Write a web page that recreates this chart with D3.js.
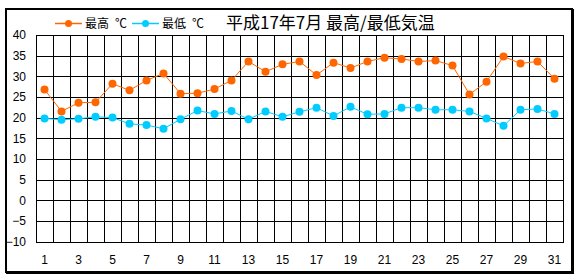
<!DOCTYPE html>
<html>
<head>
<meta charset="utf-8">
<script src="https://cdn.jsdelivr.net/npm/d3@7"></script>
<style>
  body { margin: 0; background: #fff; }
  text { font-family: "Liberation Sans", Arial, "Noto Sans CJK JP", sans-serif; fill: #000; }
  .cjk { font-family: "Noto Sans CJK JP", sans-serif; }
</style>
</head>
<body>
<div id="chart"></div>
<script>
const days = d3.range(1, 32);
const maxTemp = [26.8, 21.5, 23.6, 23.7, 28.2, 26.6, 29.0, 30.7, 25.8, 25.9,
                 26.9, 29.0, 33.6, 31.1, 32.9, 33.6, 30.3, 33.3, 32.0, 33.6,
                 34.5, 34.2, 33.6, 33.8, 32.6, 25.6, 28.7, 34.8, 33.1, 33.6, 29.4];
const minTemp = [19.8, 19.5, 19.7, 20.2, 20.0, 18.5, 18.2, 17.3, 19.6, 21.7,
                 20.9, 21.6, 19.6, 21.5, 20.2, 21.4, 22.4, 20.4, 22.6, 20.8,
                 20.9, 22.4, 22.4, 21.9, 21.9, 21.5, 19.8, 18.0, 21.9, 22.1, 20.9];
const yTicks = d3.range(-10, 41, 5);
const seriesNames = ["最高 ℃", "最低 ℃"];
const title = "平成17年7月 最高/最低気温";

const width = 580;
const height = 280;
const margin = {top: 35, left: 36, right: 17, bottom: 38};
const colors = ["#ff6600", "#00ccff"];

const svg = d3.select("#chart").append("svg")
    .attr("width", width)
    .attr("height", height);

// outer frame (thicker on right/bottom)
svg.append("rect")
    .attr("x", 6).attr("y", 9)
    .attr("width", 566).attr("height", 263)
    .attr("fill", "none").attr("stroke", "#000").attr("stroke-width", 2);
svg.append("path")
    .attr("d", "M572.5,9 V272.5 H6")
    .attr("fill", "none").attr("stroke", "#000").attr("stroke-width", 3);

const x = d3.scaleBand()
    .domain(days)
    .range([margin.left, width - margin.right]);

const y = d3.scaleLinear()
    .domain([-10, 40])
    .range([height - margin.bottom - 0.5, margin.top]);

/* grid */
const grid = svg.append("g").attr("shape-rendering", "crispEdges");
grid.selectAll(".h").data(yTicks).enter().append("line")
    .attr("x1", margin.left).attr("x2", width - margin.right)
    .attr("y1", d => Math.round(y(d)) + 0.5).attr("y2", d => Math.round(y(d)) + 0.5)
    .attr("stroke", "#000");
grid.selectAll(".v").data(d3.range(0, 32)).enter().append("line")
    .attr("x1", i => Math.round(margin.left + i * x.step()) + 0.5)
    .attr("x2", i => Math.round(margin.left + i * x.step()) + 0.5)
    .attr("y1", y(40)).attr("y2", Math.round(y(-10)) + 1)
    .attr("stroke", "#000");

/* axes labels */
const yAxis = d3.axisLeft(y).tickValues(yTicks).tickSize(0).tickPadding(10);
svg.append("g")
    .attr("transform", `translate(${margin.left},0)`)
    .call(yAxis)
    .call(g => g.select(".domain").remove())
    .selectAll("text")
    .style("font-size", "12px");

const xAxis = d3.axisBottom(x).tickValues(days.filter(d => d % 2 === 1)).tickSize(0).tickPadding(14);
svg.append("g")
    .attr("transform", `translate(0,${y(-10)})`)
    .call(xAxis)
    .call(g => g.select(".domain").remove())
    .selectAll("text")
    .style("font-size", "12px");

/* series */
const line = d3.line()
    .x((d, i) => x(days[i]) + x.bandwidth() / 2)
    .y(d => y(d));

[maxTemp, minTemp].forEach(function(series, k) {
  svg.append("path")
    .datum(series)
    .attr("d", line)
    .attr("fill", "none")
    .attr("stroke", colors[k])
    .attr("stroke-width", 1);
  svg.selectAll(".pt" + k)
    .data(series)
    .enter()
    .append("circle")
    .attr("cx", (d, i) => x(days[i]) + x.bandwidth() / 2)
    .attr("cy", d => y(d))
    .attr("r", 4)
    .attr("fill", colors[k]);
});

/* legend */
const legendX = [55, 132];
seriesNames.forEach(function(name, k) {
  const lg = svg.append("g").attr("transform", `translate(${legendX[k]},23.5)`);
  lg.append("line").attr("x1", 0).attr("x2", 27).attr("y1", 0).attr("y2", 0)
    .attr("stroke", colors[k]).attr("stroke-width", 1.5);
  lg.append("circle").attr("cx", 13.5).attr("cy", 0).attr("r", 3.5).attr("fill", colors[k]);
  lg.append("text").attr("class", "cjk").attr("x", 30).attr("y", 4.5)
    .style("font-size", "12px").style("white-space", "pre")
    .text(name.replace(" ", "\u2002"));
});

svg.append("text")
    .attr("class", "cjk")
    .attr("x", 226).attr("y", 29)
    .style("font-size", "17px")
    .text(title);
</script>
</body>
</html>
